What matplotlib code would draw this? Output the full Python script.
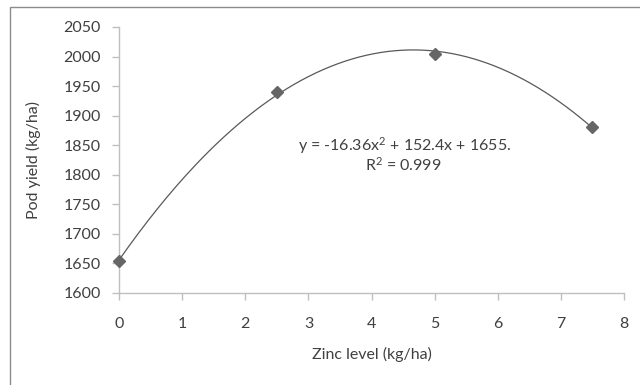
import matplotlib
matplotlib.use("Agg")
import matplotlib.pyplot as plt
from matplotlib.patches import Rectangle
import numpy as np

# data
zinc = [0, 2.5, 5, 7.5]
pod_yield = [1654, 1940, 2004, 1881]
eq_label = "y = -16.36x$^{2}$ + 152.4x + 1655."
r2_label = "R$^{2}$ = 0.999"

plt.rcParams['font.family'] = ['Lato', 'DejaVu Sans']
plt.rcParams['mathtext.fontset'] = 'custom'
plt.rcParams['mathtext.rm'] = 'Lato'
plt.rcParams['mathtext.default'] = 'regular'
txt = '#404040'
axc = '#bfbfbf'
fs = 11.5

fig = plt.figure(figsize=(6.4, 3.85), dpi=100)
ax = fig.add_axes([0.186, 0.239, 0.789, 0.691])

# polynomial trendline (order 2) fitted to the points
coef = np.polyfit(zinc, pod_yield, 2)
xs = np.linspace(min(zinc), max(zinc), 200)
ax.plot(xs, np.polyval(coef, xs), color='#595959', lw=0.9, zorder=2)
ax.plot(zinc, pod_yield, linestyle='none', marker='D', ms=6.5, color='#666666',
        zorder=3, clip_on=False)

ax.set_xlim(0, 8)
ax.set_ylim(1600, 2050)
ax.set_xticks(range(0, 9))
ax.set_yticks(range(1600, 2051, 50))
for s in ['top', 'right']:
    ax.spines[s].set_visible(False)
for s in ['left', 'bottom']:
    ax.spines[s].set_color(axc)
    ax.spines[s].set_linewidth(1)
ax.tick_params(colors=axc, labelcolor=txt, labelsize=fs, length=5, width=1)
ax.tick_params(axis='x', pad=12)
ax.tick_params(axis='y', pad=8)

ax.set_xlabel("Zinc level (kg/ha)", color=txt, fontsize=fs, labelpad=12)
ax.set_ylabel("Pod yield (kg/ha)", color=txt, fontsize=fs, labelpad=16)

ax.text(4.53, 1850, eq_label, color=txt, fontsize=fs, ha='center', va='center')
ax.text(4.5, 1817, r2_label, color=txt, fontsize=fs, ha='center', va='center')

# outer chart frame
fig.patches.append(Rectangle((10 / 640, -0.1), 1.0, 1 - 7 / 385 + 0.1,
                             transform=fig.transFigure, fill=False,
                             edgecolor='#8c8c8c', lw=1))

fig.savefig("out.png", dpi=100)
